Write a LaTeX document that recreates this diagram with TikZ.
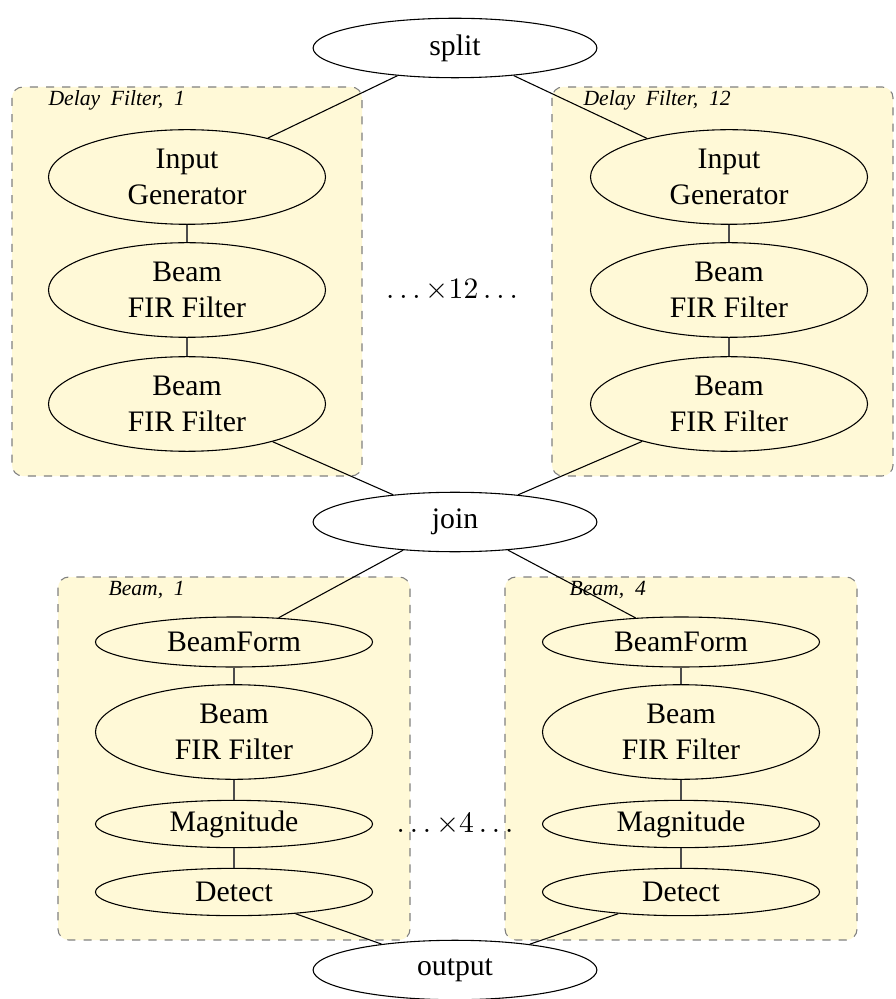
\documentclass[tikz,border=0pt]{standalone}
\usepackage{fontspec}
\setmainfont{Liberation Serif}
\usepackage{xcolor}
\usepackage{tikz}
\usetikzlibrary{shapes,arrows,positioning}
\definecolor{clusterfill}{RGB}{255,249,215}

\begin{document}
\begin{tikzpicture}[x=0.37pt,y=-0.37pt,
  task/.style={draw, ellipse, inner sep=0pt, align=center, font=\fontsize{11}{13.3}\selectfont, minimum width=102.5pt},
  big/.style={task, minimum height=35pt},
  small/.style={task, minimum height=17.5pt},
  flow/.style={draw, ellipse, inner sep=0pt, fill=white, font=\fontsize{11}{13.3}\selectfont, minimum width=105pt, minimum height=22pt},
  cluster/.style={draw=gray, dashed, fill=clusterfill, rounded corners=4pt},
  tag/.style={font=\fontsize{8}{9.6}\selectfont\itshape, anchor=west, inner sep=0pt},
  link/.style={draw=black!70, thin}]
\useasboundingbox (0,0) rectangle (895,999);

% Clusters
\draw[cluster] (12,87) rectangle (362,476);
\draw[cluster] (552,87) rectangle (893,476);
\draw[cluster] (58,577) rectangle (410,940);
\draw[cluster] (505,577) rectangle (857,940);

\node[tag] (tagA) at (48,100) {Delay\ \ Filter,\ \ 1};
\node[tag] (tagB) at (583,100) {Delay\ \ Filter,\ \ 12};
\node[tag] (tagC) at (108,590) {Beam,\ \ 1};
\node[tag] (tagD) at (569,590) {Beam,\ \ 4};

% Define nodes
\node[flow] (split) at (455,48) {split};

\node[big] (gen1) at (187,177) {Input\\Generator};
\node[big] (fira1) at (187,290) {Beam\\FIR Filter};
\node[big] (firb1) at (187,404) {Beam\\FIR Filter};

\node[big] (gen12) at (729,177) {Input\\Generator};
\node[big] (fira12) at (729,290) {Beam\\FIR Filter};
\node[big] (firb12) at (729,404) {Beam\\FIR Filter};

\node[font=\fontsize{11}{13.3}\selectfont] (dotsA) at (452,290) {$\ldots{\times}12\ldots$};

\node[flow] (join) at (455,522) {join};

\node[task, minimum height=18.5pt] (form1) at (234,642) {BeamForm};
\node[big] (bfir1) at (234,732) {Beam\\FIR Filter};
\node[small] (mag1) at (234,824) {Magnitude};
\node[small] (det1) at (234,892) {Detect};

\node[task, minimum height=18.5pt] (form4) at (681,642) {BeamForm};
\node[big] (bfir4) at (681,732) {Beam\\FIR Filter};
\node[small] (mag4) at (681,824) {Magnitude};
\node[small] (det4) at (681,892) {Detect};

\node[font=\fontsize{11}{13.3}\selectfont] (dotsB) at (455,824) {$\ldots{\times}4\ldots$};

\node[flow] (output) at (455,970) {output};

% Draw edges
\draw (split) -- (gen1);
\draw (split) -- (gen12);
\draw[link] (gen1) -- (fira1);
\draw[link] (fira1) -- (firb1);
\draw[link] (gen12) -- (fira12);
\draw[link] (fira12) -- (firb12);
\draw (firb1) -- (join);
\draw (firb12) -- (join);
\draw (join) -- (form1);
\draw (join) -- (form4);
\draw[link] (form1) -- (bfir1);
\draw[link] (bfir1) -- (mag1);
\draw[link] (mag1) -- (det1);
\draw[link] (form4) -- (bfir4);
\draw[link] (bfir4) -- (mag4);
\draw[link] (mag4) -- (det4);
\draw (det1) -- (output);
\draw (det4) -- (output);
\end{tikzpicture}
\end{document}
